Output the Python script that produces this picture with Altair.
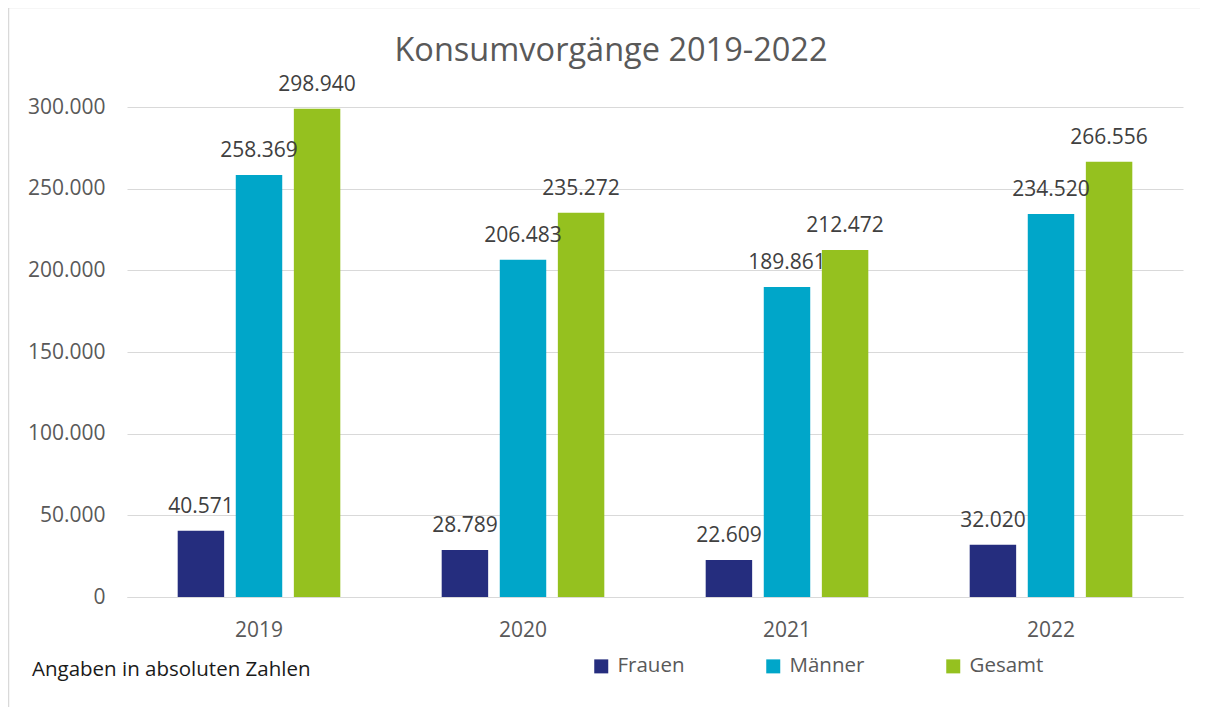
import altair as alt
import pandas as pd

years = ["2019", "2020", "2021", "2022"]
frauen = [40571, 28789, 22609, 32020]
maenner = [258369, 206483, 189861, 234520]
gesamt = [298940, 235272, 212472, 266556]
series = ["Frauen", "Männer", "Gesamt"]
colors = ["#252D7E", "#00A6C9", "#95C11F"]
y_ticks = [0, 50000, 100000, 150000, 200000, 250000, 300000]

rows = []
for i, yr in enumerate(years):
    for s, vals in zip(series, [frauen, maenner, gesamt]):
        rows.append({"Jahr": yr, "Gruppe": s, "Wert": vals[i]})
df = pd.DataFrame(rows)

FONT = "Open Sans"
GRAY = "#595959"

base = alt.Chart(df).encode(
    x=alt.X(
        "Jahr:N",
        sort=years,
        scale=alt.Scale(paddingInner=0.34, paddingOuter=0.17),
        axis=alt.Axis(
            title=None, labelAngle=0, ticks=False, tickSize=0,
            domainColor="#D9D9D9", domainWidth=1,
            labelPadding=22, labelFontSize=21, labelColor=GRAY, labelFont=FONT,
        ),
    ),
    xOffset=alt.XOffset(
        "Gruppe:N", sort=series, scale=alt.Scale(paddingInner=0.2, paddingOuter=0.1)
    ),
)

bars = base.mark_bar().encode(
    y=alt.Y(
        "Wert:Q",
        scale=alt.Scale(domain=[0, 300000], nice=False),
        axis=alt.Axis(
            title=None, values=y_ticks, domain=False, ticks=False, tickSize=0,
            labelExpr="replace(format(datum.value, ','), ',', '.')",
            labelPadding=22, labelFontSize=21, labelColor=GRAY, labelFont=FONT,
            gridColor="#D9D9D9", gridWidth=1,
        ),
    ),
    color=alt.Color(
        "Gruppe:N",
        sort=series,
        scale=alt.Scale(domain=series, range=colors),
        legend=alt.Legend(
            title=None, orient="none", direction="horizontal",
            legendX=464, legendY=549, padding=0,
            symbolType="square", symbolSize=196, symbolStrokeWidth=0,
            labelFontSize=20.5, labelColor=GRAY, labelFont=FONT,
            labelOffset=6, columnPadding=78,
        ),
    ),
)

labels = base.transform_calculate(
    Label="replace(format(datum.Wert, ','), ',', '.')"
).mark_text(
    baseline="alphabetic", dy=-18, fontSize=21, color="#404040", font=FONT
).encode(
    y=alt.Y("Wert:Q"),
    text="Label:N",
)

one = pd.DataFrame({"t": ["Angaben in absoluten Zahlen"]})
footnote = alt.Chart(one).mark_text(
    align="left", baseline="middle", fontSize=20.5, color="#1A1A1A", font=FONT
).encode(x=alt.value(-95), y=alt.value(563), text="t:N")

frame = alt.Chart(pd.DataFrame({"a": [0]})).mark_rect(
    fill=None, stroke="#D9D9D9", strokeWidth=1.5
).encode(
    x=alt.value(-118.5), x2=alt.value(1100), y=alt.value(-99.5), y2=alt.value(620)
)

chart = alt.layer(frame, bars, labels, footnote).properties(
    width=1056,
    height=490,
    padding={"left": 119, "top": 99, "right": 17, "bottom": 110},
    autosize=alt.AutoSizeParams(type="none"),
    title=alt.TitleParams(
        "Konsumvorgänge 2019-2022", fontSize=32.5, color=GRAY, font=FONT,
        fontWeight="normal", anchor="middle", frame="group", dx=-44,
        baseline="alphabetic", offset=-87,
    ),
).configure_view(stroke=None)

chart.save("out.html", embed_options={"renderer": "svg", "actions": False})
